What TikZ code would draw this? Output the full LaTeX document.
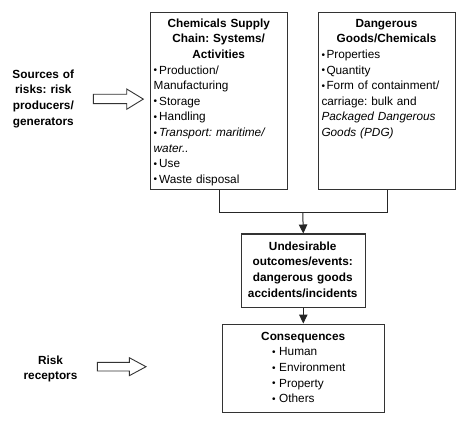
\documentclass[tikz,border=0pt]{standalone}
\usepackage{fontspec}
\setmainfont{Liberation Sans}
\usetikzlibrary{arrows.meta}
\frenchspacing
\newcommand\bitem[2][5.5pt]{\hangindent=#1\hangafter=1\noindent\makebox[#1][l]{\raisebox{0.3pt}{\scalebox{0.85}{•}}}#2\par}
\begin{document}
\begin{tikzpicture}[x=1pt,y=-1pt,
  box/.style={draw=black!80, line width=1.1pt, inner sep=0pt, anchor=north west},
  txt/.style={inner sep=0pt, font={\fontsize{11.8}{15.6}\selectfont}},
  btxt/.style={inner sep=0pt, font={\fontsize{11.8}{15.6}\selectfont\bfseries}},
  conn/.style={draw=black!85, line width=1pt},
  arr/.style={conn, -{Triangle[length=9pt,width=8.5pt]}},
  blockarrow/.style={draw=black!80, line width=0.9pt, fill=white}]
\useasboundingbox (0,0) rectangle (465,427);

% boxes
\node[box, minimum width=137pt, minimum height=177pt] (sc) at (150.3,12.3) {};
\node[box, minimum width=137pt, minimum height=177pt] (dg) at (318,12.3) {};
\node[box, minimum width=123.5pt, minimum height=73.5pt] (ue) at (241,233.5) {};
\node[box, minimum width=161.5pt, minimum height=88.5pt] (cq) at (222,323.5) {};

% box texts
\node[txt, text width=130pt, anchor=base west] (sct) at (153.5,27.3) {\raggedright
  {\centering\bfseries Chemicals Supply\\Chain: Systems/\\Activities\par}
  \bitem{Production/\\Manufacturing}
  \bitem{Storage}
  \bitem{Handling}
  \bitem{{\itshape Transport: maritime/\\water..}}
  \bitem{Use}
  \bitem{Waste disposal}};

\node[txt, text width=130pt, anchor=base west] (dgt) at (321.3,27.3) {\raggedright
  {\centering\bfseries Dangerous\\Goods/Chemicals\par}
  \bitem[5pt]{Properties}
  \bitem[5pt]{Quantity}
  \bitem[5pt]{Form of containment/\\carriage: bulk and\\{\itshape Packaged Dangerous\\Goods (PDG)}}};

\node[btxt, text width=122pt, align=center, anchor=base] (uet) at (302.75,250.3)
  {Undesirable\\outcomes/events:\\dangerous goods\\accidents/incidents};

\node[btxt, text width=120pt, align=center, anchor=base] (cqt) at (303.2,340.3) {Consequences};
\node[txt, text width=100pt, anchor=base west] (cql) at (272,355.9) {\raggedright
  \bitem[7pt]{Human}
  \bitem[7pt]{Environment}
  \bitem[7pt]{Property}
  \bitem[7pt]{Others}};

% left labels
\node[btxt, text width=80pt, align=center, anchor=base] (src) at (43.3,78.3)
  {Sources of\\risks: risk\\producers/\\generators};
\node[btxt, text width=80pt, align=center, anchor=base] (rec) at (50.5,364.3)
  {Risk\\receptors};

% block arrows
\draw[blockarrow] (93.3,94.3) -- (126.7,94.3) -- (126.7,89) -- (143.3,99.1)
  -- (126.7,109.3) -- (126.7,103.6) -- (93.3,103.6) -- cycle;
\draw[blockarrow] (97.3,362.3) -- (129.3,362.3) -- (129.3,357.7) -- (146,366.7)
  -- (129.3,375.7) -- (129.3,371) -- (97.3,371) -- cycle;

% connectors
\coordinate (m) at (302.75,212.3);
\draw[conn] (sc.south) |- (m) -| (dg.south);
\draw[arr] (m) -- (ue.north);
\draw[arr] (ue.south) -- (ue.south |- cq.north);
\end{tikzpicture}
\end{document}
